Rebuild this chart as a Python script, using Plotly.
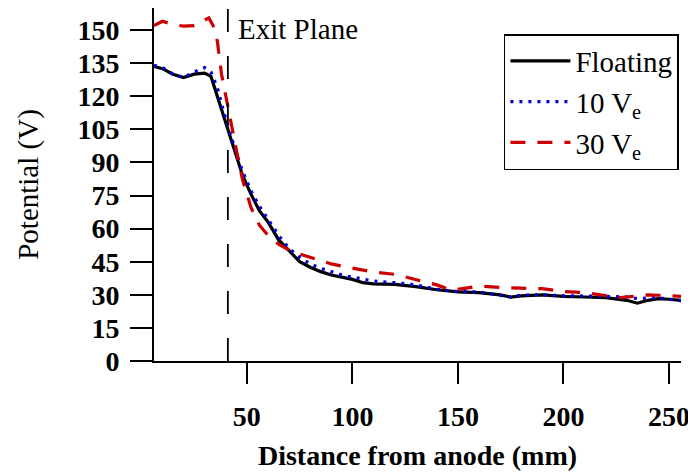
import plotly.graph_objects as go

# Floating
x_float = [6, 10, 15, 20, 25, 30, 33, 36, 39, 42, 45, 48, 52, 56, 60, 65, 70, 75, 80, 85, 90, 95,
           100, 105, 110, 120, 130, 140, 150, 160, 170, 175, 180, 190, 200, 210, 220, 230, 235, 240,
           245, 250, 256]
y_float = [133.5, 132.5, 130, 128.5, 130, 130.5, 129, 120, 111, 101, 92, 84, 75.5, 68, 63, 55, 50,
           45, 42.5, 40.5, 39, 38, 37, 35.5, 35, 34.7, 33.7, 32.3, 31.3, 31, 30, 29, 29.5, 30, 29.3,
           29, 28.7, 27.5, 26.2, 27.5, 28.3, 28, 27.5]

# 10 Ve
x_10 = [6, 10, 15, 20, 25, 30, 33, 36, 39, 42, 45, 48, 52, 56, 60, 65, 70, 75, 80, 85, 90, 95,
        100, 105, 110, 120, 130, 140, 150, 160, 170, 175, 180, 190, 200, 210, 220, 230, 235, 240,
        245, 250, 256]
y_10 = [134, 133, 130, 128.5, 131, 133, 131, 124, 113, 103, 94, 86, 77, 70, 64, 57, 51, 47, 44, 42,
        40.5, 39, 38, 37, 36.3, 35.5, 34.5, 32.5, 31.5, 31.3, 30, 29, 29.8, 30, 29.6, 29.6, 29.3, 29,
        28.3, 28.5, 28.7, 28, 27.3]

# 30 Ve
x_30 = [6, 10, 15, 20, 25, 30, 32, 34, 36, 38, 40, 42, 44, 46, 48, 52, 56, 60, 65, 70, 75, 80, 85,
        90, 95, 100, 105, 110, 120, 130, 140, 147, 160, 170, 175, 180, 190, 200, 210, 220, 227,
        235, 240, 245, 250, 256]
y_30 = [152, 154, 152.5, 151.8, 152, 154.5, 155.5, 152, 145, 130, 120, 110.5, 101, 91, 82, 69.5,
        61.5, 57, 53, 50.3, 48.5, 47, 45.5, 44, 43, 42, 41, 40.3, 39.3, 37, 34.5, 32, 34, 33.3, 33,
        33, 32.8, 31.5, 31, 29.8, 28.7, 29.5, 30, 29.8, 29.6, 29.3]

y_ticks = [0, 15, 30, 45, 60, 75, 90, 105, 120, 135, 150]
x_ticks = [50, 100, 150, 200, 250]
exit_plane_x = 41

FONT = "Liberation Serif"
FS = 28

fig = go.Figure()
fig.add_trace(go.Scatter(x=x_float, y=y_float, mode="lines", name="Floating",
                         line=dict(color="black", width=3.2)))
fig.add_trace(go.Scatter(x=x_10, y=y_10, mode="lines", name="10 V<sub>e</sub>",
                         line=dict(color="#0000dd", width=3.2, dash="3px,6px")))
fig.add_trace(go.Scatter(x=x_30, y=y_30, mode="lines", name="30 V<sub>e</sub>",
                         line=dict(color="#cc0000", width=3.2, dash="15px,12px")))

fig.add_shape(type="line", xref="x", yref="paper", x0=exit_plane_x, x1=exit_plane_x, y0=0, y1=1,
              line=dict(color="black", width=1.8, dash="23px,24px"))
fig.add_annotation(x=45, y=0.94, xref="x", yref="paper", text="Exit Plane", showarrow=False,
                   xanchor="left", yanchor="middle", font=dict(family=FONT, size=29, color="black"))

fig.update_layout(
    width=696, height=474,
    margin=dict(l=146, r=23, t=0, b=121),
    plot_bgcolor="white", paper_bgcolor="white",
    font=dict(family=FONT, size=FS, color="black"),
    legend=dict(x=0.664, y=0.926, xanchor="left", yanchor="top",
                bordercolor="black", borderwidth=1.5, bgcolor="white",
                font=dict(family=FONT, size=29, color="black"),
                itemwidth=60, tracegroupgap=0),
    showlegend=True,
)
fig.update_xaxes(range=[6, 255.7], tickvals=x_ticks, ticks="outside", ticklen=21, tickwidth=2,
                 tickcolor="black", showline=True, linecolor="black", linewidth=2,
                 showgrid=False, zeroline=False, automargin=False, ticklabelstandoff=8,
                 tickfont=dict(family=FONT, size=FS, color="black", weight="bold"),
                 title=dict(text="<b>Distance from anode (mm)</b>", standoff=15,
                            font=dict(family=FONT, size=FS, color="black")))
fig.update_yaxes(range=[0, 160], tickvals=y_ticks, ticks="outside", ticklen=22, tickwidth=2,
                 tickcolor="black", showline=True, linecolor="black", linewidth=2,
                 showgrid=False, zeroline=False, automargin=False, ticklabelstandoff=5,
                 tickfont=dict(family=FONT, size=FS, color="black", weight="bold"),
                 title=dict(text="Potential (V)", standoff=30,
                            font=dict(family=FONT, size=29, color="black")))

fig.write_html("out.html")
